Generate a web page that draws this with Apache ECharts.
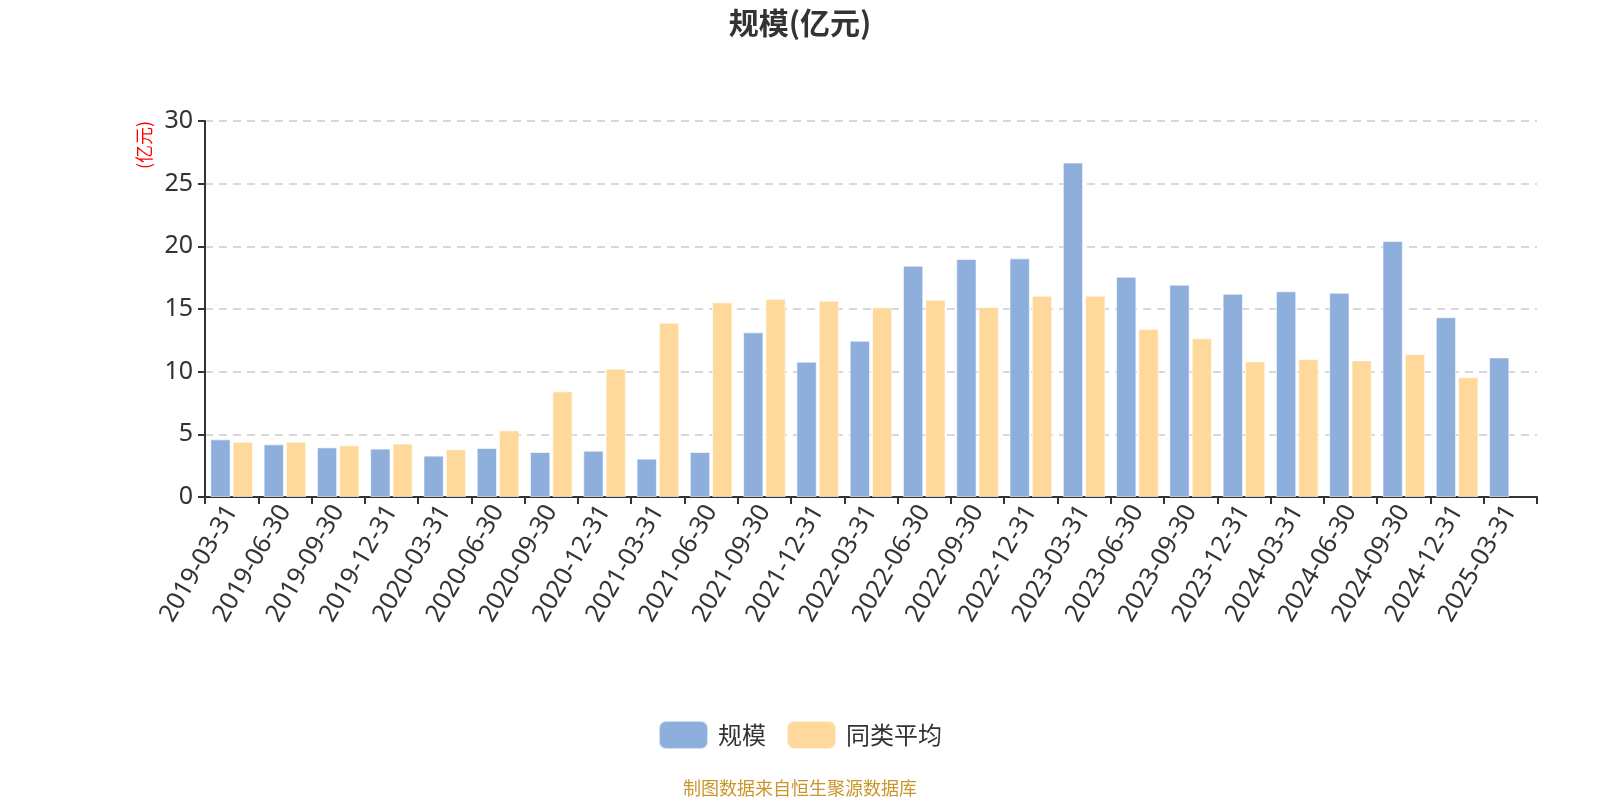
<!DOCTYPE html>
<html>
<head>
<meta charset="utf-8">
<script src="https://cdn.jsdelivr.net/npm/echarts@6/dist/echarts.min.js"></script>
<style>html,body{margin:0;padding:0;background:#fff;}#c{width:1600px;height:800px;}</style>
</head>
<body>
<div id="c"></div>
<script>
const categories = ["2019-03-31","2019-06-30","2019-09-30","2019-12-31","2020-03-31","2020-06-30","2020-09-30","2020-12-31","2021-03-31","2021-06-30","2021-09-30","2021-12-31","2022-03-31","2022-06-30","2022-09-30","2022-12-31","2023-03-31","2023-06-30","2023-09-30","2023-12-31","2024-03-31","2024-06-30","2024-09-30","2024-12-31","2025-03-31"];
const scaleValues = [4.60,4.20,3.96,3.86,3.30,3.91,3.59,3.70,3.06,3.59,13.14,10.80,12.47,18.46,18.99,19.04,26.68,17.58,16.94,16.22,16.41,16.30,20.43,14.34,11.14];
const peerAverage = [4.41,4.41,4.12,4.26,3.80,5.32,8.43,10.24,13.91,15.53,15.82,15.66,15.13,15.74,15.16,16.06,16.06,13.40,12.66,10.82,11.01,10.90,11.41,9.55,null];
const yTicks = [0,5,10,15,20,25,30];

const chart = echarts.init(document.getElementById('c'));
const font = '"Noto Sans", "Noto Sans CJK SC", sans-serif';
chart.setOption({
  animation: false,
  textStyle: { fontFamily: font },
  title: {
    text: '规模(亿元)', left: 'center', top: 3,
    textStyle: { fontSize: 30, fontWeight: 'bold', color: '#333', fontFamily: '"Noto Sans CJK SC", sans-serif' }
  },
  legend: {
    data: ['规模', '同类平均'], left: 'center', top: 715,
    itemWidth: 49, itemHeight: 28, itemGap: 20,
    textStyle: { fontSize: 24, color: '#333', padding: [0, 0, 0, 5], fontFamily: '"Noto Sans CJK SC", sans-serif' }
  },
  grid: { left: 205, right: 63, top: 121, bottom: 303, containLabel: false },
  graphic: [
    { type: 'text', x: 144, y: 145, rotation: Math.PI / 2,
      style: { text: '(亿元)', fill: '#ff0000', font: '18px "Noto Sans CJK SC", sans-serif', textAlign: 'center', textVerticalAlign: 'middle' } },
    { type: 'text', left: 'center', top: 779,
      style: { text: '制图数据来自恒生聚源数据库', fill: '#c8962a', font: '18px "Noto Sans CJK SC", sans-serif' } }
  ],
  xAxis: {
    type: 'category', data: categories,
    axisLine: { lineStyle: { color: '#333', width: 2 } },
    axisTick: { show: true, length: 7, lineStyle: { color: '#333', width: 2 } },
    axisLabel: { rotate: 60, fontSize: 25, color: '#333', margin: 10, interval: 0 }
  },
  yAxis: {
    type: 'value', min: yTicks[0], max: yTicks[yTicks.length - 1], interval: 5,
    axisLine: { show: true, lineStyle: { color: '#333', width: 2 } },
    axisTick: { show: true, length: 7, lineStyle: { color: '#333', width: 2 } },
    axisLabel: { fontSize: 25, color: '#333', margin: 12 },
    splitLine: { lineStyle: { color: '#ccc', type: [8, 6], width: 1.5 } }
  },
  series: [
    { name: '规模', type: 'bar', data: scaleValues, barGap: '10%', barCategoryGap: '20%',
      itemStyle: { color: '#8eaedb', borderColor: 'rgba(255,255,255,0.6)', borderWidth: 1 } },
    { name: '同类平均', type: 'bar', data: peerAverage,
      itemStyle: { color: '#fed99b', borderColor: 'rgba(255,255,255,0.6)', borderWidth: 1 } }
  ]
});
</script>
</body>
</html>
